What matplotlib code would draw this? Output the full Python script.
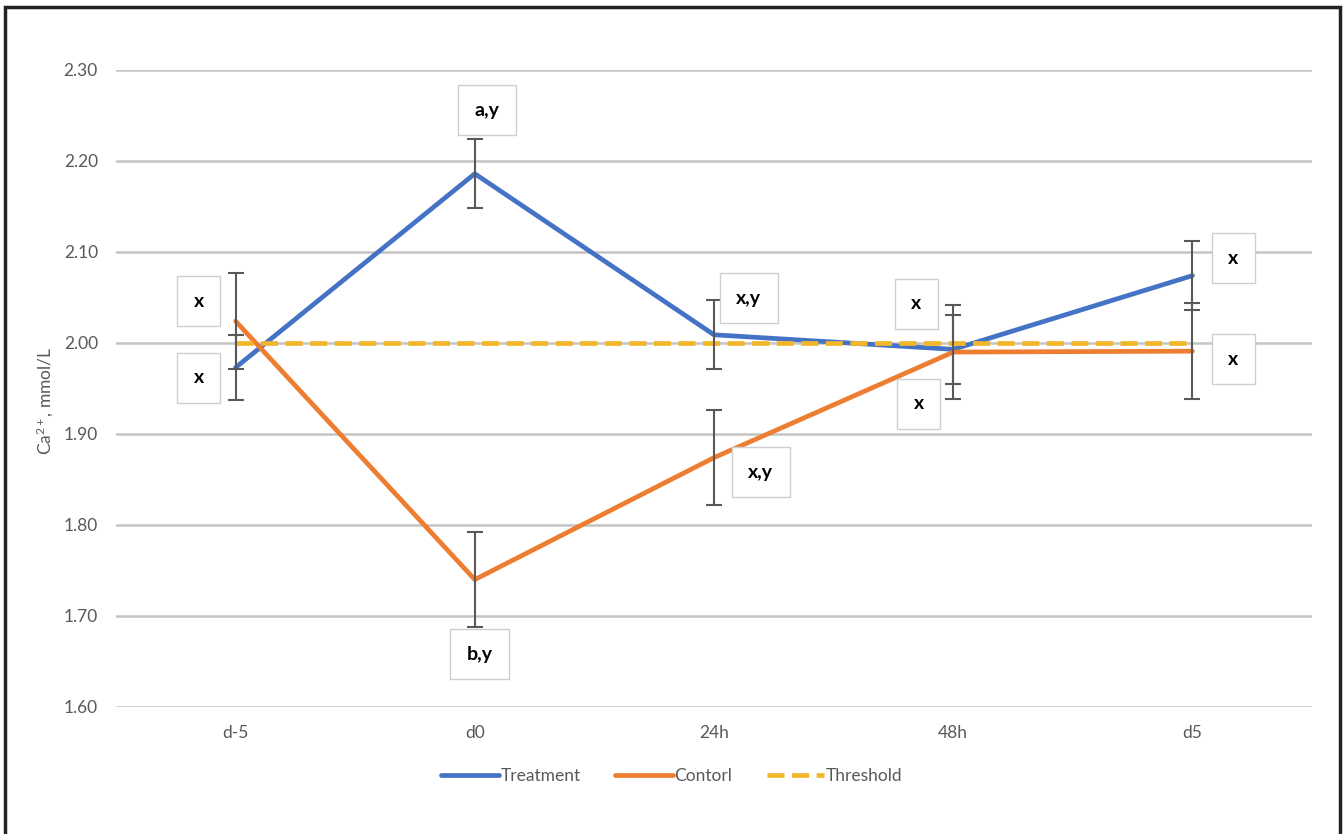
import matplotlib
matplotlib.use('Agg')
import matplotlib.pyplot as plt
from matplotlib.patches import Rectangle

plt.rcParams['font.family'] = ['Lato', 'DejaVu Sans']
plt.rcParams['mathtext.fontset'] = 'custom'
plt.rcParams['mathtext.rm'] = 'Lato'
plt.rcParams['mathtext.it'] = 'Lato'
plt.rcParams['mathtext.default'] = 'regular'

# serum calcium per time point
timepoints = ['d-5', 'd0', '24h', '48h', 'd5']
treatment = [1.973, 2.186, 2.009, 1.993, 2.074]
treatment_err = [0.036, 0.038, 0.038, 0.038, 0.038]
control = [2.024, 1.740, 1.874, 1.990, 1.991]
control_err = [0.053, 0.052, 0.052, 0.052, 0.053]
threshold = [2.00, 2.00, 2.00, 2.00, 2.00]

# significance letters: (text, x, y)
sig_labels = [
    ('x', -0.155, 2.046), ('x', -0.155, 1.962),
    ('a,y', 1.05, 2.256), ('b,y', 1.02, 1.658),
    ('x,y', 2.145, 2.049), ('x,y', 2.195, 1.858),
    ('x', 2.846, 2.043), ('x', 2.855, 1.933),
    ('x', 4.171, 2.093), ('x', 4.171, 1.982),
]

blue = '#4472C4'
orange = '#ED7D31'
gold = '#F2B62A'
gray = '#595959'

fig = plt.figure(figsize=(13.44, 8.34), dpi=100)
ax = fig.add_axes([0.0863, 0.1523, 0.8899, 0.7638])

xs = range(len(timepoints))
ax.plot(xs, treatment, color=blue, lw=3.4, label='Treatment', zorder=3,
        solid_capstyle='round', solid_joinstyle='round')
ax.plot(xs, control, color=orange, lw=3.4, label='Contorl', zorder=3,
        solid_capstyle='round', solid_joinstyle='round')
ax.plot(xs, threshold, color=gold, lw=3.4, ls=(0, (3.6, 1.6)), label='Threshold', zorder=4)

ax.errorbar(xs, treatment, yerr=treatment_err, fmt='none', ecolor=gray,
            elinewidth=1.5, capsize=6, capthick=1.5, zorder=5)
ax.errorbar(xs, control, yerr=control_err, fmt='none', ecolor=gray,
            elinewidth=1.5, capsize=6, capthick=1.5, zorder=5)

for txt, x, y in sig_labels:
    ax.text(x, y, txt, ha='center', va='center', fontsize=14, fontweight='bold',
            color='black', zorder=6,
            bbox=dict(boxstyle='square,pad=0.85', fc='white', ec='#cfcfcf', lw=1))

ax.set_xlim(-0.5, 4.5)
ax.set_ylim(1.60, 2.30)
ax.set_yticks([1.6 + 0.1 * i for i in range(8)])
ax.set_yticklabels([f'{1.6 + 0.1 * i:.2f}' for i in range(8)])
ax.set_xticks(list(xs))
ax.set_xticklabels(timepoints)
ax.tick_params(axis='both', length=0, labelsize=12.5, labelcolor=gray)
ax.tick_params(axis='y', pad=13)
ax.tick_params(axis='x', pad=13)
ax.yaxis.grid(True, color='#c4c4c4', lw=1.8)
ax.set_axisbelow(True)
for s in ax.spines.values():
    s.set_visible(False)

fig.text(0.034, 0.52, 'Ca$^{2+}$, mmol/L', rotation=90, ha='center', va='center',
         fontsize=12.5, color=gray)

fig.legend(loc='center', bbox_to_anchor=(0.5, 1 - 776 / 834), ncol=3, frameon=False,
           fontsize=12.5, labelcolor=gray, handlelength=3.3, handletextpad=0.1,
           columnspacing=2.0)

# outer frame
fig.add_artist(Rectangle((0.004, -0.05), 0.993, 1.042, transform=fig.transFigure,
                         fill=False, ec='#222222', lw=2.5))

fig.savefig('out.png', dpi=100, facecolor='white')
